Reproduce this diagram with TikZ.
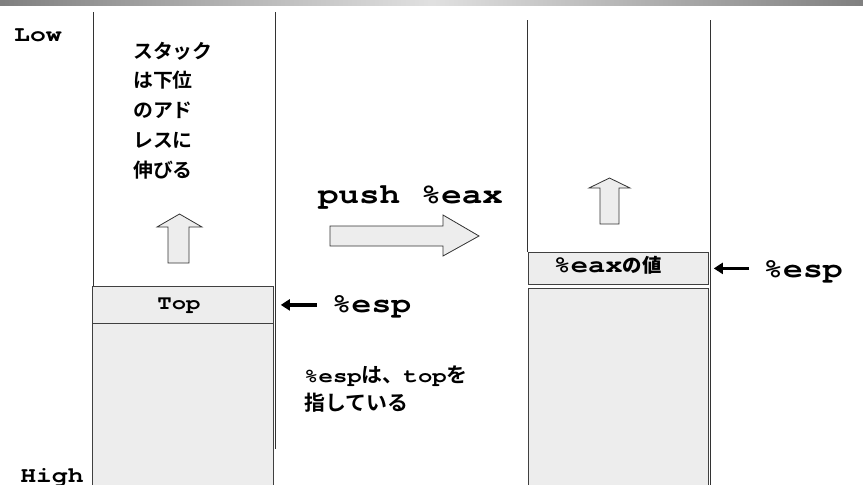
\documentclass[tikz,border=0pt]{standalone}
\usepackage{fontspec}
\setmonofont{TeX Gyre Cursor}[FakeStretch=1.2]
\newfontfamily\jp{Noto Sans CJK JP}[FakeStretch=1.02,UprightFont=* Bold]
\usetikzlibrary{arrows.meta}
\definecolor{boxgray}{HTML}{EDEDED}
\newcommand\monob{\ttfamily\bfseries}
\newcommand\msize[1]{\fontsize{#1}{#1}\selectfont}
\begin{document}
\begin{tikzpicture}[x=1pt,y=-1pt,
  cell/.style={fill=boxgray, draw=black!75, line width=0.8pt, inner sep=0pt, anchor=north west},
  blockarrow/.style={fill=boxgray, draw=black!80, line width=0.8pt, line join=miter},
  colline/.style={draw=black!80, line width=0.8pt},
  ptr/.style={line width=3.5pt, -{Triangle[length=9pt,width=11pt]}},
  txt/.style={inner sep=0pt, anchor=base}
]
\useasboundingbox (0,0) rectangle (863,485);
\shade[left color=black!50, right color=black!50, middle color=black!12] (0,0) rectangle (863,5);
% left column
\draw[colline] (93,12) -- (93,286);
\draw[colline] (275,12) -- (275,449);
\node[cell, minimum width=181pt, minimum height=37pt] (topbox) at (92,286) {};
\node[cell, minimum width=181pt, minimum height=170pt] (lowbox) at (92,323) {};
\node[txt, font=\monob\msize{20}] (toptxt) at (179,309) {Top};
% right column
\draw[colline] (527,20) -- (527,252);
\draw[colline] (710,20) -- (710,485);
\node[cell, minimum width=180pt, minimum height=32pt] (eaxbox) at (528,252) {};
\node[cell, minimum width=180pt, minimum height=200pt] (lowbox2) at (528,288) {};
\node[txt, font=\monob\msize{24}] (eaxtxt) at (607.5,272) {\%eax{\jp\msize{19}の値}};
% labels
\node[txt, font=\monob\msize{22}] (low) at (38,41) {Low};
\node[txt, font=\monob\msize{22}] (high) at (52,482) {High};
\node[txt, font=\monob\msize{28.5}] (push) at (410.5,203) {push \%eax};
\node[txt, font=\monob\msize{27.5}] (espL) at (371.5,312) {\%esp};
\node[txt, font=\monob\msize{27.5}] (espR) at (803,277) {\%esp};
\node[inner sep=0pt, anchor=base west, align=left, font=\jp\fontsize{19.5}{29.75}\selectfont] (grow) at (133,177)
  {スタック\\は下位\\のアド\\レスに\\伸びる};
\node[inner sep=0pt, anchor=base west, align=left, font=\jp\fontsize{20.5}{28}\selectfont] (note) at (304,410)
  {{\monob\msize{20}\%esp}は、{\monob\msize{20}top}を\\指している};
% pointer arrows
\draw[ptr, shorten <=15pt, shorten >=7pt] (topbox.east -| espL.west) -- (topbox.east);
\draw[ptr, shorten <=14pt, shorten >=5pt] (eaxbox.east -| espR.west) -- (eaxbox.east);
% block arrows
\draw[blockarrow] (168,263) -- (168,227) -- (157,227) -- (179.5,214) -- (202,227) -- (189,227) -- (189,263) -- cycle;
\draw[blockarrow] (600,224) -- (600,188) -- (589,188) -- (609.5,178) -- (630,188) -- (619,188) -- (619,224) -- cycle;
\draw[blockarrow] (330,226) -- (443,226) -- (443,215) -- (479,236) -- (443,256) -- (443,246) -- (330,246) -- cycle;
\end{tikzpicture}
\end{document}
